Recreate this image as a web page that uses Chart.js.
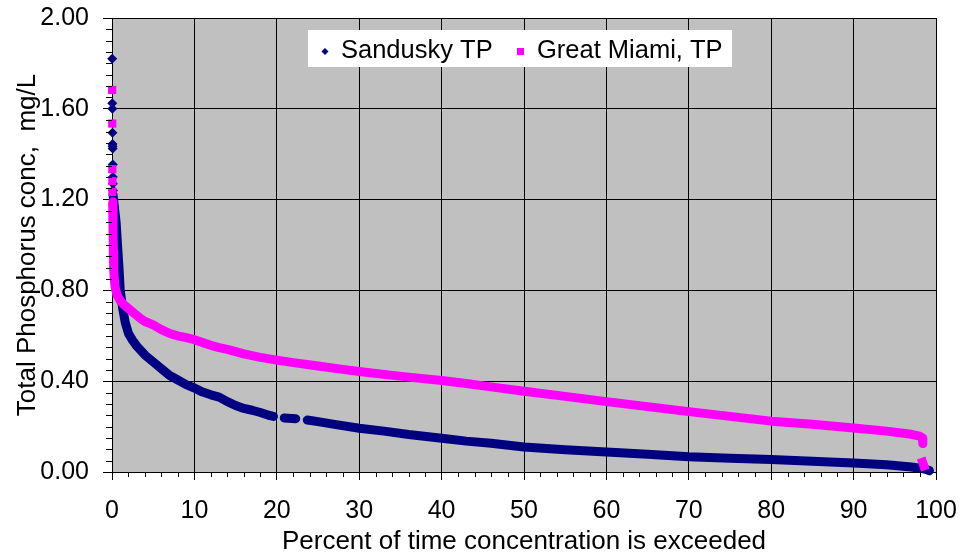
<!DOCTYPE html>
<html>
<head>
<meta charset="utf-8">
<script src="https://cdn.jsdelivr.net/npm/chart.js@4.4.0/dist/chart.umd.min.js"></script>
<style>
html, body { margin: 0; padding: 0; background: #ffffff; }
canvas { display: block; }
</style>
</head>
<body>
<canvas id="c" width="962" height="556"></canvas>
<script>
// ---- Data (percent of time exceeded, mg/L) ----
const sanduskyLabel = 'Sandusky TP';
const miamiLabel = 'Great Miami, TP';

// sparse high-concentration points (individual markers)
const sanduskyTailPct = [0.02, 0.03, 0.04, 0.05, 0.06, 0.07, 0.08, 0.09, 0.10, 0.11, 0.12];
const sanduskyTailTP  = [1.82, 1.625, 1.60, 1.495, 1.445, 1.435, 1.425, 1.355, 1.30, 1.27, 1.24];

const miamiTailPct = [0.02, 0.03, 0.04, 0.05, 0.05];
const miamiTailTP  = [1.683, 1.535, 1.334, 1.282, 1.234];

// dense part of the duration curves (null = visible gap)
const sanduskyPct = [0.13, 0.25, 0.5, 0.67, 0.85, 1.0, 1.3, 1.6, 2.0, 2.5, 3.0, 3.5, 4.0, 5.0, 6.0, 7.0, 8.0, 9.0, 10, 11, 12, 13, 14, 15, 16, 17, 18, 19, 19.6, 20.2, 20.9, 22.3, 23.0, 23.7, 25, 27, 30, 33, 36, 40, 43, 46, 50, 55, 60, 65, 70, 75, 80, 85, 90, 94, 97, 98.5, 99.2];
const sanduskyTP  = [1.22, 1.18, 1.10, 1.00, 0.90, 0.80, 0.72, 0.66, 0.61, 0.58, 0.555, 0.535, 0.515, 0.485, 0.455, 0.425, 0.405, 0.385, 0.37, 0.352, 0.34, 0.33, 0.31, 0.293, 0.28, 0.272, 0.262, 0.25, 0.245, null, 0.238, 0.235, null, 0.229, 0.222, 0.21, 0.193, 0.18, 0.165, 0.149, 0.136, 0.127, 0.11, 0.098, 0.088, 0.078, 0.067, 0.061, 0.055, 0.047, 0.04, 0.032, 0.022, 0.014, 0.006];

const miamiPct = [0.08, 0.12, 0.16, 0.22, 0.35, 0.6, 1.0, 1.5, 2.0, 2.5, 3.0, 3.5, 4.0, 5.0, 6.0, 7.0, 8.0, 9.0, 10, 11, 12, 13, 14, 15, 16, 18, 20, 22, 25, 28, 30, 33, 36, 40, 43, 46, 50, 55, 60, 65, 70, 75, 80, 85, 90, 94, 97, 98.0, 98.35, 98.4, 98.3, 98.2, 98.5, 98.7];
const miamiTP  = [1.19, 1.08, 0.97, 0.88, 0.82, 0.78, 0.755, 0.735, 0.72, 0.705, 0.69, 0.675, 0.663, 0.648, 0.627, 0.61, 0.60, 0.592, 0.583, 0.57, 0.558, 0.548, 0.54, 0.53, 0.52, 0.505, 0.493, 0.482, 0.467, 0.452, 0.443, 0.43, 0.418, 0.403, 0.39, 0.375, 0.356, 0.333, 0.31, 0.288, 0.266, 0.245, 0.224, 0.21, 0.194, 0.18, 0.166, 0.158, 0.15, 0.125, null, 0.062, 0.03, 0.008];

// axes
const xMin = 0, xMax = 100, xMajorStep = 10, xMinorStep = 2;
const yMin = 0, yMax = 2, yMajorStep = 0.4, yMinorStep = 0.05;
const xTitle = 'Percent of time concentration is exceeded';
const yTitle = 'Total Phosphorus conc,  mg/L';

const NAVY = '#000080';
const MAGENTA = '#FF00FF';
const FONT = '"Liberation Sans", Arial, Helvetica, sans-serif';

function pts(xs, ys) { return xs.map((x, i) => ({ x: x, y: ys[i] })); }
function isMajorX(v) { return Math.abs(v / xMajorStep - Math.round(v / xMajorStep)) < 1e-6; }
function isMajorY(v) { return Math.abs(v / yMajorStep - Math.round(v / yMajorStep)) < 1e-6; }

const bgPlugin = {
  id: 'bg',
  beforeDraw(chart) {
    const { ctx, chartArea: a } = chart;
    ctx.save();
    ctx.fillStyle = '#ffffff';
    ctx.fillRect(0, 0, chart.width, chart.height);
    ctx.fillStyle = '#C0C0C0';
    ctx.fillRect(a.left, a.top, a.right - a.left, a.bottom - a.top);
    ctx.restore();
  }
};

const minorTickPlugin = {
  id: 'minorTicks',
  afterDraw(chart) {
    const { ctx, chartArea: a } = chart;
    const xs = chart.scales.x, ys = chart.scales.y;
    ctx.save();
    ctx.strokeStyle = '#000';
    ctx.lineWidth = 1;
    ctx.beginPath();
    xs.ticks.forEach(t => {
      if (!isMajorX(t.value)) {
        const px = Math.round(xs.getPixelForValue(t.value)) + 0.5;
        ctx.moveTo(px, a.bottom);
        ctx.lineTo(px, a.bottom + 5);
      }
    });
    ys.ticks.forEach(t => {
      if (!isMajorY(t.value)) {
        const py = Math.round(ys.getPixelForValue(t.value)) + 0.5;
        ctx.moveTo(a.left, py);
        ctx.lineTo(a.left - 6, py);
      }
    });
    ctx.stroke();
    ctx.restore();
  }
};

const legendPlugin = {
  id: 'boxLegend',
  afterDraw(chart) {
    const { ctx } = chart;
    ctx.save();
    ctx.fillStyle = '#ffffff';
    ctx.fillRect(308, 30, 424, 37);
    // diamond
    ctx.fillStyle = NAVY;
    ctx.beginPath();
    ctx.moveTo(325, 48);
    ctx.lineTo(328.5, 51.5);
    ctx.lineTo(325, 55);
    ctx.lineTo(321.5, 51.5);
    ctx.closePath();
    ctx.fill();
    // square
    ctx.fillStyle = MAGENTA;
    ctx.fillRect(517, 48, 7, 7);
    ctx.fillStyle = '#000';
    ctx.font = '25.5px ' + FONT;
    ctx.textBaseline = 'alphabetic';
    ctx.textAlign = 'left';
    ctx.fillText(sanduskyLabel, 341, 57.5);
    ctx.fillText(miamiLabel, 537, 57.5);
    ctx.restore();
  }
};

new Chart(document.getElementById('c'), {
  type: 'scatter',
  data: {
    datasets: [
      {
        label: miamiLabel,
        data: pts(miamiTailPct, miamiTailTP),
        showLine: false,
        clip: false,
        pointStyle: 'rect',
        pointRadius: 5.8,
        pointBorderWidth: 0,
        backgroundColor: MAGENTA,
        borderColor: MAGENTA,
        order: 1
      },
      {
        label: miamiLabel + ' (curve)',
        data: pts(miamiPct, miamiTP),
        showLine: true,
        spanGaps: false,
        clip: false,
        borderColor: MAGENTA,
        backgroundColor: MAGENTA,
        borderWidth: 9,
        borderCapStyle: 'butt',
        borderJoinStyle: 'round',
        pointRadius: 0,
        tension: 0,
        order: 1
      },
      {
        label: sanduskyLabel,
        data: pts(sanduskyTailPct, sanduskyTailTP),
        showLine: false,
        clip: false,
        pointStyle: 'rectRot',
        pointRadius: 5,
        pointBorderWidth: 0,
        backgroundColor: NAVY,
        borderColor: NAVY,
        order: 2
      },
      {
        label: sanduskyLabel + ' (curve)',
        data: pts(sanduskyPct, sanduskyTP),
        showLine: true,
        spanGaps: false,
        clip: false,
        borderColor: NAVY,
        backgroundColor: NAVY,
        borderWidth: 9,
        borderCapStyle: 'round',
        borderJoinStyle: 'round',
        pointRadius: 0,
        tension: 0,
        order: 2
      }
    ]
  },
  options: {
    responsive: false,
    animation: false,
    devicePixelRatio: 1,
    layout: { padding: { left: 0, right: 26, top: 18, bottom: 0 } },
    plugins: {
      legend: { display: false },
      tooltip: { enabled: false }
    },
    scales: {
      x: {
        type: 'linear',
        min: xMin,
        max: xMax,
        afterFit: s => { s.height = 84; s.paddingLeft = 0; s.paddingRight = 0; },
        ticks: {
          stepSize: xMinorStep,
          autoSkip: false,
          maxRotation: 0,
          minRotation: 0,
          padding: 16,
          color: '#000',
          font: { family: FONT, size: 25, lineHeight: 1.2 },
          callback: v => (isMajorX(v) ? String(Math.round(v)) : '')
        },
        grid: {
          color: c => (c.tick && isMajorX(c.tick.value) ? '#000' : 'rgba(0,0,0,0)'),
          tickColor: c => (c.tick && isMajorX(c.tick.value) ? '#000' : 'rgba(0,0,0,0)'),
          tickLength: 8,
          lineWidth: 1
        },
        border: { display: true, color: '#000', width: 1 },
        title: {
          display: true,
          text: xTitle,
          color: '#000',
          font: { family: FONT, size: 26, lineHeight: 1.1 },
          padding: { top: 0, bottom: 0 }
        }
      },
      y: {
        type: 'linear',
        min: yMin,
        max: yMax,
        afterFit: s => { s.width = 112; s.paddingTop = 0; s.paddingBottom = 0; },
        ticks: {
          stepSize: yMinorStep,
          autoSkip: false,
          padding: 14,
          color: '#000',
          font: { family: FONT, size: 25, lineHeight: 1.2 },
          callback: v => (isMajorY(v) ? Number(v).toFixed(2) : '')
        },
        grid: {
          color: c => (c.tick && isMajorY(c.tick.value) ? '#000' : 'rgba(0,0,0,0)'),
          tickColor: c => (c.tick && isMajorY(c.tick.value) ? '#000' : 'rgba(0,0,0,0)'),
          tickLength: 9,
          lineWidth: 1
        },
        border: { display: true, color: '#000', width: 1 },
        title: {
          display: true,
          text: yTitle,
          color: '#000',
          font: { family: FONT, size: 26, lineHeight: 1.2 },
          padding: { top: 12, bottom: 0 }
        }
      }
    }
  },
  plugins: [bgPlugin, minorTickPlugin, legendPlugin]
});
</script>
</body>
</html>
